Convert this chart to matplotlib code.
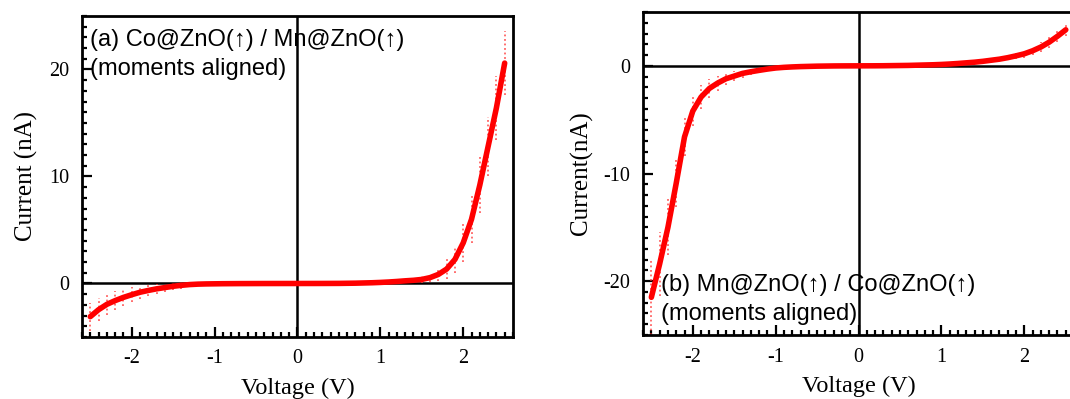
import numpy as np
import matplotlib.pyplot as plt
from matplotlib.ticker import MultipleLocator

plt.rcParams['font.family'] = ['Liberation Serif', 'DejaVu Serif']
plt.rcParams['axes.unicode_minus'] = False

# Voltaje común (V)
voltage = [-2.5, -2.4, -2.3, -2.2, -2.1, -2.0, -1.9, -1.8, -1.7, -1.6,
           -1.5, -1.4, -1.3, -1.2, -1.1, -1.0, -0.9, -0.8, -0.7, -0.6,
           -0.5, -0.4, -0.3, -0.2, -0.1, 0.0, 0.1, 0.2, 0.3, 0.4,
           0.5, 0.6, 0.7, 0.8, 0.9, 1.0, 1.1, 1.2, 1.3, 1.4,
           1.5, 1.6, 1.7, 1.8, 1.9, 2.0, 2.1, 2.2, 2.3, 2.4, 2.5]

# (a) Co@ZnO / Mn@ZnO, corriente (nA)
current_a = [-3.1, -2.45, -1.95, -1.6, -1.3, -1.05, -0.82, -0.65, -0.5, -0.38,
             -0.26, -0.17, -0.1, -0.06, -0.04, -0.03, -0.02, -0.015, -0.01, -0.008,
             -0.005, -0.003, -0.002, -0.001, 0.0, 0.0, 0.001, 0.002, 0.004, 0.007,
             0.01, 0.02, 0.03, 0.05, 0.07, 0.1, 0.14, 0.19, 0.25, 0.3,
             0.38, 0.55, 0.85, 1.35, 2.25, 3.8, 6.0, 9.2, 12.8, 16.4, 20.6]
error_a = [1.3, 1.1, 1.0, 0.9, 0.8, 0.7, 0.6, 0.55, 0.45, 0.4,
           0.35, 0.3, 0.2, 0.15, 0.1, 0.08, 0.05, 0.05, 0.05, 0.05,
           0.05, 0.05, 0.05, 0.05, 0.05, 0.05, 0.05, 0.05, 0.05, 0.05,
           0.05, 0.05, 0.05, 0.05, 0.05, 0.08, 0.08, 0.1, 0.15, 0.2,
           0.3, 0.4, 0.6, 0.9, 1.3, 1.8, 2.2, 2.6, 2.8, 3.0, 3.0]

# (b) Mn@ZnO / Co@ZnO, corriente (nA)
current_b = [-21.5, -18.4, -15.0, -10.9, -6.6, -4.2, -2.9, -2.1, -1.6, -1.2,
             -0.95, -0.7, -0.55, -0.42, -0.3, -0.2, -0.14, -0.1, -0.07, -0.05,
             -0.03, -0.02, -0.01, -0.005, -0.002, 0.0, 0.002, 0.005, 0.01, 0.02,
             0.03, 0.04, 0.06, 0.08, 0.1, 0.13, 0.17, 0.22, 0.28, 0.34,
             0.42, 0.52, 0.62, 0.76, 0.93, 1.12, 1.4, 1.75, 2.2, 2.75, 3.35]
error_b = [3.5, 3.0, 2.6, 2.2, 1.8, 1.4, 1.1, 0.9, 0.7, 0.6,
           0.5, 0.4, 0.3, 0.2, 0.15, 0.1, 0.05, 0.05, 0.05, 0.05,
           0.05, 0.05, 0.05, 0.05, 0.05, 0.05, 0.05, 0.05, 0.05, 0.05,
           0.05, 0.05, 0.05, 0.05, 0.05, 0.05, 0.05, 0.05, 0.08, 0.08,
           0.1, 0.15, 0.2, 0.25, 0.3, 0.35, 0.4, 0.45, 0.5, 0.55, 0.6]

fig = plt.figure(figsize=(10.7, 3.99), dpi=100)
ax_a = fig.add_axes([0.0766, 0.1554, 0.4028, 0.8045])
ax_b = fig.add_axes([0.601, 0.1604, 0.4028, 0.8095])


def dibujar(ax, corriente, error, ylim, ylabel, texto, pos, va):
    barras = ax.errorbar(voltage, corriente, yerr=error, fmt='none',
                         ecolor='#ff3b3b', elinewidth=1.3, alpha=0.8, zorder=2)
    barras[2][0].set_linestyle((0, (1, 1.5)))
    ax.plot(voltage, corriente, color='red', lw=4, zorder=3,
            solid_capstyle='round', solid_joinstyle='round')
    ax.axhline(0, color='black', lw=1.8, zorder=1)
    ax.axvline(0, color='black', lw=1.8, zorder=1)

    ax.set_xlim(-2.6, 2.6)
    ax.set_ylim(*ylim)
    ax.xaxis.set_major_locator(MultipleLocator(1))
    ax.xaxis.set_minor_locator(MultipleLocator(0.1))
    ax.yaxis.set_major_locator(MultipleLocator(10))
    ax.yaxis.set_minor_locator(MultipleLocator(1))
    ax.tick_params(which='both', direction='in', top=False, right=False,
                   width=1.6, labelsize=14.5)
    ax.tick_params(which='major', length=7, pad=9)
    ax.tick_params(which='minor', length=3.5)
    for lado in ax.spines.values():
        lado.set_linewidth(2)

    ax.set_xlabel('Voltage (V)', fontsize=17.5, labelpad=7)
    ax.set_ylabel(ylabel, fontsize=18, labelpad=8)
    ax.text(pos[0], pos[1], texto, transform=ax.transAxes, fontsize=17,
            va=va, ha='left', linespacing=1.4,
            family=['Liberation Sans', 'DejaVu Sans'], zorder=4)


dibujar(ax_a, current_a, error_a, (-5, 25), 'Current (nA)',
        '(a) Co@ZnO(\u2191) / Mn@ZnO(\u2191)\n(moments aligned)', (0.018, 0.96), 'top')
dibujar(ax_b, current_b, error_b, (-25, 5), 'Current(nA)',
        '(b) Mn@ZnO(\u2191) / Co@ZnO(\u2191)\n(moments aligned)', (0.042, 0.032), 'bottom')

fig.savefig('out.png', dpi=100)
